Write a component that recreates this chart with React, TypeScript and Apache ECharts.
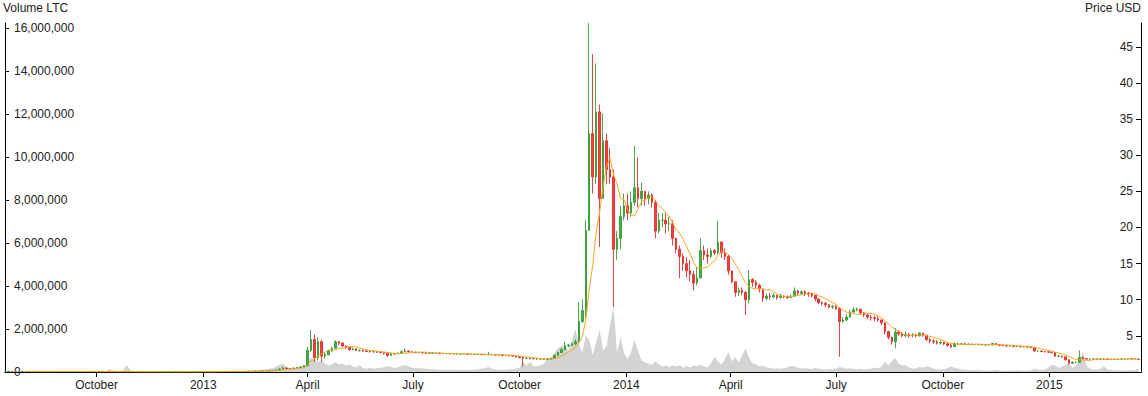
import React, { useEffect, useRef } from "react";
import * as echarts from "echarts";

// Candles every 3 days starting 2012-07-14 (open = previous close)
const START_DATE = [2012, 6, 14];
const STEP_DAYS = 3;
const AXIS_START = [2012, 6, 14];
const AXIS_END = [2015, 2, 21];

const closes = [
  0.08,0.09,0.08,0.08,0.07,0.08,0.07,0.07,0.07,0.06,
  0.06,0.06,0.07,0.06,0.06,0.06,0.06,0.06,0.07,0.06,
  0.06,0.05,0.05,0.05,0.05,0.05,0.05,0.05,0.05,0.05,
  0.04,0.04,0.04,0.04,0.04,0.04,0.04,0.03,0.03,0.03,
  0.03,0.03,0.03,0.03,0.03,0.03,0.03,0.03,0.03,0.03,
  0.03,0.03,0.03,0.03,0.03,0.03,0.03,0.04,0.04,0.04,
  0.04,0.05,0.05,0.05,0.06,0.06,0.07,0.07,0.08,0.09,
  0.10,0.11,0.12,0.14,0.15,0.17,0.20,0.22,0.30,0.42,
  0.55,0.50,0.48,0.55,0.62,0.70,0.85,3.0,4.5,2.0,
  4.2,2.2,2.4,2.9,3.3,4.2,4.0,3.6,3.4,3.1,
  3.2,3.0,3.0,2.9,2.85,2.8,2.8,2.75,2.7,2.6,
  2.3,2.5,2.5,2.6,2.8,2.9,2.8,2.75,2.7,2.7,
  2.65,2.6,2.6,2.6,2.6,2.55,2.55,2.55,2.5,2.55,
  2.5,2.5,2.5,2.45,2.45,2.45,2.45,2.4,2.4,2.4,
  2.4,2.35,2.35,2.3,2.3,2.25,2.2,2.1,2.0,1.9,
  1.9,1.85,1.85,1.8,1.8,1.75,1.75,1.9,2.3,2.7,
  3.1,3.6,3.7,3.9,4.2,7.0,8.5,19.6,33,27,
  36,24,32,28,27,17,18.5,21.5,23,22,
  23.5,25.5,24,25,24,24.5,23.5,19.5,21,21,
  20.5,20.5,18.5,17,16,15,14,13.5,12.3,13,
  16.8,16.2,16.0,16.8,16.5,18.0,16.5,16.0,14.0,12.5,
  11.0,11.3,11.0,10.0,12.8,12.4,12.0,11.5,10.2,10.5,
  10.4,10.6,10.3,10.5,10.4,10.3,10.5,11.2,10.9,11.1,
  10.9,10.8,10.6,10.1,9.6,9.5,9.3,9.0,9.1,8.8,
  7.0,7.2,7.6,8.3,8.6,8.7,8.2,7.9,7.6,7.5,
  7.4,7.2,6.8,5.6,4.8,4.2,5.5,5.3,5.0,5.2,
  5.0,5.1,5.0,5.4,5.1,4.5,4.3,4.2,4.0,4.1,
  3.9,3.7,3.5,3.9,3.9,3.9,3.85,3.85,3.8,3.8,
  3.8,3.75,3.75,3.75,3.95,3.75,3.7,3.65,3.6,3.6,
  3.55,3.55,3.5,3.5,3.45,3.4,2.9,2.9,2.85,2.8,
  2.75,2.7,2.2,2.2,2.1,1.7,1.2,1.35,1.35,2.0,
  1.85,1.8,1.8,1.8,1.75,1.75,1.8,1.75,1.75,1.75,
  1.8,1.8,1.8,1.8,1.85,1.8,1.75,
];

const highs = [
  0.09,0.10,0.09,0.09,0.08,0.09,0.08,0.08,0.08,0.07,
  0.07,0.07,0.08,0.07,0.07,0.07,0.07,0.07,0.08,0.07,
  0.07,0.06,0.06,0.06,0.06,0.06,0.06,0.06,0.06,0.06,
  0.05,0.05,0.05,0.05,0.05,0.05,0.05,0.04,0.04,0.04,
  0.04,0.04,0.04,0.04,0.04,0.04,0.04,0.04,0.04,0.04,
  0.04,0.04,0.04,0.04,0.04,0.04,0.04,0.05,0.05,0.05,
  0.05,0.06,0.06,0.06,0.07,0.07,0.08,0.08,0.09,0.10,
  0.11,0.12,0.13,0.15,0.16,0.18,0.22,0.26,0.34,0.48,
  0.75,0.62,0.56,0.60,0.68,0.78,0.92,3.5,5.8,5.2,
  4.8,4.4,2.8,3.1,3.5,4.4,4.3,4.1,3.7,3.5,
  3.4,3.3,3.1,3.1,3.0,2.95,2.9,2.9,2.85,2.75,
  2.65,2.6,2.6,2.7,3.0,3.3,2.95,2.85,2.8,2.8,
  2.75,2.7,2.7,2.7,2.7,2.65,2.65,2.6,2.6,2.6,
  2.6,2.55,2.55,2.5,2.5,2.5,2.5,2.5,2.45,2.8,
  2.45,2.45,2.4,2.4,2.35,2.35,2.3,2.25,2.15,2.05,
  2.0,1.95,1.95,1.9,1.9,1.85,1.85,1.95,2.4,2.8,
  3.3,4.2,3.9,4.1,4.5,9.7,10.0,21,48.3,44,
  42.7,37,35.8,33,31,28,19.5,23,24.7,24.7,
  25,31.3,29.7,26.2,25,25,24.7,23.8,22,22,
  22,21.5,21,18.6,17.5,16.4,15.9,15.5,14,14.5,
  18.5,17.5,17.1,17.2,17.0,20.9,18.0,17.1,16.2,14,
  12.5,11.7,11.7,11.2,14.1,13.0,12.7,12.2,11.5,10.9,
  10.9,10.9,10.7,10.8,10.6,10.6,10.7,11.7,11.4,11.3,
  11.3,11.1,11.0,10.6,10.2,9.8,9.7,9.4,9.3,9.2,
  8.9,7.6,8.0,8.6,9.0,8.9,8.7,8.3,8.0,7.9,
  7.8,7.7,7.3,6.9,5.6,4.9,6.1,5.8,5.5,5.6,
  5.4,5.4,5.3,5.5,5.4,5.1,4.7,4.5,4.4,4.4,
  4.2,4.0,3.9,4.1,4.1,4.0,4.0,3.95,3.95,3.9,
  3.9,3.9,3.85,3.85,4.0,4.0,3.8,3.75,3.7,3.7,
  3.65,3.65,3.6,3.6,3.55,3.5,3.45,3.0,2.95,2.9,
  2.85,2.8,2.75,2.35,2.25,2.15,1.75,1.45,1.45,3.0,
  2.1,1.9,1.9,1.9,1.85,1.85,1.95,1.85,1.8,1.8,
  1.85,1.85,1.85,1.85,1.9,1.9,1.8,
];

const lows = [
  0.07,0.08,0.07,0.07,0.06,0.07,0.06,0.06,0.06,0.05,
  0.05,0.05,0.06,0.05,0.05,0.05,0.05,0.05,0.06,0.05,
  0.05,0.04,0.04,0.04,0.04,0.04,0.04,0.04,0.04,0.04,
  0.03,0.03,0.03,0.03,0.03,0.03,0.03,0.02,0.02,0.02,
  0.02,0.02,0.02,0.02,0.02,0.02,0.02,0.02,0.02,0.02,
  0.02,0.02,0.02,0.02,0.02,0.02,0.02,0.03,0.03,0.03,
  0.03,0.04,0.04,0.04,0.05,0.05,0.06,0.06,0.07,0.08,
  0.09,0.10,0.11,0.12,0.14,0.15,0.17,0.20,0.22,0.30,
  0.42,0.45,0.44,0.47,0.54,0.60,0.68,0.85,2.8,1.4,
  1.6,1.4,1.8,2.3,2.8,3.2,3.7,3.4,3.2,2.9,
  3.0,2.9,2.8,2.8,2.75,2.7,2.7,2.65,2.6,2.4,
  2.1,2.25,2.4,2.45,2.55,2.75,2.7,2.65,2.6,2.6,
  2.55,2.5,2.5,2.5,2.5,2.45,2.45,2.45,2.4,2.45,
  2.4,2.4,2.4,2.35,2.35,2.35,2.35,2.3,2.3,2.3,
  2.3,2.25,2.25,2.2,2.2,2.15,2.1,2.0,1.9,0.8,
  1.8,1.75,1.75,1.7,1.7,1.65,1.65,1.7,1.85,2.25,
  2.65,3.0,3.4,3.6,3.7,4.0,6.8,7.5,19.6,24.7,
  26,17.3,24,26,26,9.0,15.5,17,21,21,
  21.5,23,22.8,23,23,23.2,22.8,18.5,19.2,20,
  19.2,19.5,17.5,16.4,13,14,13.1,12.5,11.3,12,
  13,15.5,15,15.8,16.2,16.3,15.8,15.5,13.5,12.3,
  10.4,10.5,10.6,7.9,9.5,11.8,11.6,11.0,9.7,9.9,
  10.0,10.2,10.0,10.2,10.2,10.1,10.2,10.4,10.6,10.7,
  10.5,10.4,10.3,9.8,9.4,9.2,9.0,8.8,8.7,8.6,
  2.1,6.8,7.0,7.5,8.2,8.4,8.0,7.6,7.3,7.1,
  7.0,6.9,6.5,5.2,4.5,3.8,3.3,5.0,4.8,4.8,
  4.7,4.8,4.8,4.9,4.9,4.3,4.0,3.9,3.8,3.8,
  3.7,3.5,3.3,3.5,3.7,3.7,3.7,3.7,3.7,3.7,
  3.7,3.65,3.65,3.65,3.7,3.7,3.6,3.55,3.5,3.5,
  3.45,3.45,3.4,3.4,3.35,3.3,2.8,2.8,2.75,2.7,
  2.65,2.6,2.1,2.1,2.0,1.6,1.0,1.15,1.25,1.3,
  1.75,1.7,1.7,1.7,1.65,1.65,1.7,1.65,1.65,1.65,
  1.7,1.7,1.7,1.7,1.75,1.75,1.65,
];

// Volume in thousands of LTC
const volumesK = [
  40,30,50,35,25,40,30,45,35,30,
  40,30,25,45,60,35,30,50,40,35,
  30,45,40,35,55,50,40,60,45,40,
  140,70,60,50,90,330,80,50,40,45,
  40,35,50,45,40,35,30,45,40,35,
  30,35,40,30,35,45,40,30,35,40,
  45,40,50,60,45,55,70,60,50,65,
  60,80,70,90,100,120,150,180,250,330,
  400,200,180,160,220,260,300,500,650,600,
  450,550,400,300,350,450,350,400,300,350,
  250,220,330,180,160,200,160,180,200,230,
  280,240,180,220,280,330,250,200,180,170,
  160,150,140,130,120,110,100,100,110,90,
  100,95,90,90,100,110,120,150,180,230,
  150,120,110,100,110,120,130,160,200,480,
  300,480,250,280,300,400,650,650,900,1100,
  1200,1250,1000,1400,2000,1300,900,1700,1500,800,
  1400,1950,1000,1200,2200,3040,900,1630,900,600,
  900,1500,1000,550,450,400,330,500,350,250,
  300,230,300,250,320,200,280,220,300,250,
  350,250,220,400,700,500,350,600,930,500,
  700,450,800,1100,650,400,350,250,300,220,
  180,150,170,150,180,220,280,250,200,160,
  180,150,140,200,150,130,120,140,130,160,
  230,200,150,180,140,120,150,120,130,150,
  200,180,250,470,300,500,650,400,300,330,
  200,150,180,230,200,250,230,150,130,120,
  130,180,250,200,170,120,100,90,80,90,
  80,70,70,60,80,110,70,60,60,70,
  60,80,70,60,70,80,150,100,90,120,
  200,330,300,200,250,330,400,200,300,650,
  930,300,150,120,100,150,280,120,90,80,
  70,80,70,80,90,80,150,
];

const MA_WINDOW = 7; // candles (about 20 days)

const xTickDates = [
  [2012, 9, 1], [2013, 0, 1], [2013, 3, 1], [2013, 6, 1], [2013, 9, 1],
  [2014, 0, 1], [2014, 3, 1], [2014, 6, 1], [2014, 9, 1], [2015, 0, 1],
];
const xTickLabels = [
  "October", "2013", "April", "July", "October",
  "2014", "April", "July", "October", "2015",
];

const VOLUME_MAX = 16230000;
const VOLUME_STEP = 2000000;
const PRICE_MAX = 48.3;
const PRICE_STEP = 5;

const UP = "#2a9a2a";
const DOWN = "#e62222";
const FONT = 'Arial, "Liberation Sans", sans-serif';

export default function App() {
  const ref = useRef<HTMLDivElement>(null);

  useEffect(() => {
    document.body.style.margin = "0";
    const chart = echarts.init(ref.current as HTMLDivElement, null, { renderer: "svg" });

    const times = closes.map((_, i) =>
      new Date(START_DATE[0], START_DATE[1], START_DATE[2] + STEP_DAYS * i).getTime()
    );
    const candleData = closes.map((c, i) => {
      const o = i === 0 ? c : closes[i - 1];
      return [times[i], o, c, lows[i], highs[i]];
    });
    const volumeData = volumesK.map((v, i) => [times[i], v * 1000]);
    const maData = closes.map((_, i) => {
      if (i < MA_WINDOW - 1) return [times[i], null];
      let s = 0;
      for (let k = i - MA_WINDOW + 1; k <= i; k++) s += closes[k];
      return [times[i], s / MA_WINDOW];
    });

    const tickTimes = xTickDates.map((d) => new Date(d[0], d[1], d[2]).getTime());

    const option = {
      animation: false,
      textStyle: { fontFamily: FONT },
      grid: { left: 5, right: 7, top: 23, bottom: 24, containLabel: false },
      xAxis: {
        type: "value",
        min: new Date(AXIS_START[0], AXIS_START[1], AXIS_START[2]).getTime(),
        max: new Date(AXIS_END[0], AXIS_END[1], AXIS_END[2]).getTime(),
        axisLine: { show: true, onZero: false, lineStyle: { color: "#000", width: 1 } },
        axisTick: { show: true, length: 5, customValues: tickTimes, lineStyle: { color: "#000" } },
        axisLabel: {
          customValues: tickTimes,
          color: "#222",
          fontSize: 12,
          margin: 7,
          hideOverlap: false,
          formatter: (v: number) => {
            const k = tickTimes.indexOf(v);
            return k >= 0 ? xTickLabels[k] : "";
          },
        },
        splitLine: { show: false },
      },
      yAxis: [
        {
          type: "value",
          position: "left",
          min: 0,
          max: VOLUME_MAX,
          interval: VOLUME_STEP,
          axisLine: { show: true, lineStyle: { color: "#000", width: 1 } },
          axisTick: { show: true, inside: true, length: 4, lineStyle: { color: "#000" } },
          axisLabel: {
            inside: true,
            margin: 9,
            color: "#222",
            fontSize: 12,
            showMaxLabel: false,
            formatter: (v: number) => v.toLocaleString("en-US"),
          },
          splitLine: { show: false },
        },
        {
          type: "value",
          position: "right",
          min: 0,
          max: PRICE_MAX,
          interval: PRICE_STEP,
          axisLine: { show: true, lineStyle: { color: "#000", width: 1 } },
          axisTick: { show: true, inside: true, length: 5, lineStyle: { color: "#000" } },
          axisLabel: {
            inside: true,
            margin: 8,
            color: "#222",
            fontSize: 12,
            showMinLabel: false,
            showMaxLabel: false,
          },
          splitLine: { show: false },
        },
      ],
      graphic: [
        { type: "text", left: 3, top: 2, style: { text: "Volume LTC", fill: "#222", font: `12px ${FONT}` } },
        { type: "text", right: 7, top: 2, style: { text: "Price USD", fill: "#222", font: `12px ${FONT}` } },
      ],
      series: [
        {
          name: "Volume",
          type: "line",
          xAxisIndex: 0,
          yAxisIndex: 0,
          data: volumeData,
          showSymbol: false,
          symbol: "none",
          lineStyle: { width: 0 },
          areaStyle: { color: "#d3d3d3", opacity: 1 },
          z: 1,
        },
        {
          name: "Price",
          type: "candlestick",
          xAxisIndex: 0,
          yAxisIndex: 1,
          data: candleData,
          barWidth: 2,
          itemStyle: {
            color: UP,
            color0: DOWN,
            borderColor: UP,
            borderColor0: DOWN,
            borderWidth: 1,
            opacity: 0.85,
          },
          z: 2,
        },
        {
          name: "Moving average",
          type: "line",
          xAxisIndex: 0,
          yAxisIndex: 1,
          data: maData,
          showSymbol: false,
          symbol: "none",
          connectNulls: false,
          lineStyle: { color: "#f5a623", width: 1 },
          z: 3,
        },
      ],
    };

    chart.setOption(option as any);
    return () => chart.dispose();
  }, []);

  return <div ref={ref} style={{ width: 1148, height: 396 }} />;
}
